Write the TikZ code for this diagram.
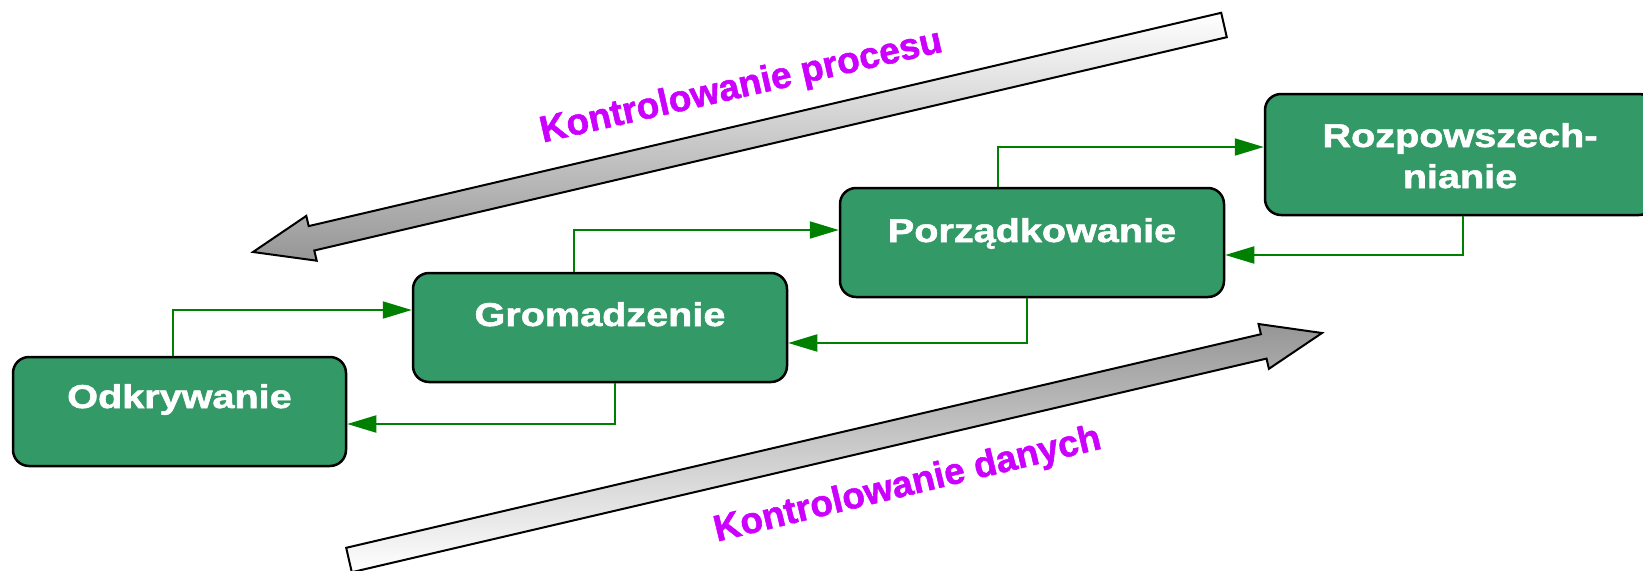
\documentclass[tikz,border=0pt]{standalone}
\usepackage{fontspec}
\setmainfont{Liberation Sans}
\newfontfamily\heavyfont{Liberation Sans}[BoldFeatures={FakeBold=1.5}]
\usetikzlibrary{arrows.meta,calc}
\definecolor{boxgreen}{RGB}{51,153,102}
\definecolor{linegreen}{RGB}{0,128,0}
\definecolor{labelpink}{RGB}{204,0,255}
\definecolor{arrowgray}{RGB}{150,150,150}
\begin{document}
\begin{tikzpicture}[x=1pt,y=-1pt,
  stage/.style={draw=black, line width=2.5pt, fill=boxgreen, rounded corners=16pt, inner sep=0pt},
  stagetext/.style={text=white, font={\fontsize{33}{40}\selectfont\heavyfont\bfseries}, anchor=base, inner sep=0pt, xscale=1.2},
  conn/.style={draw=linegreen, line width=2pt, -{Triangle[length=29pt,width=17pt]}},
  ctrl/.style={text=labelpink, font={\fontsize{37}{44}\selectfont\heavyfont\bfseries}, anchor=base, inner sep=0pt},
  bigarrow/.style={draw=black, line width=2pt, line join=miter}]
\useasboundingbox (0,0) rectangle (1643,570);

% big process / data arrows
\draw[bigarrow, top color=white, bottom color=arrowgray]
  (1221.2,12.8) -- (308.7,226.1) -- (306.3,215.9) -- (253,252) -- (316.7,260.7) -- (314.3,250.5) -- (1226.8,37.2) -- cycle;
\draw[bigarrow, top color=arrowgray, bottom color=white]
  (346.2,547.8) -- (1260.9,334.2) -- (1258.5,324.0) -- (1322,333) -- (1268.9,368.8) -- (1266.5,358.6) -- (351.8,572.2) -- cycle;

% stages
\node[stage, minimum width=333pt, minimum height=109pt] (odk) at (179.5,411.5) {};
\node[stage, minimum width=374pt, minimum height=109pt] (grom) at (600,327.5) {};
\node[stage, minimum width=384pt, minimum height=109pt] (porz) at (1032,242.5) {};
\node[stage, minimum width=390pt, minimum height=121pt] (rozp) at (1460,154.5) {};

\node[stagetext] (todk) at (179.5,408) {Odkrywanie};
\node[stagetext] (tgrom) at (600,326) {Gromadzenie};
\node[stagetext] (tporz) at (1032,242) {Porządkowanie};
\node[stagetext] (trozpa) at (1460,147) {Rozpowszech-};
\node[stagetext] (trozpb) at (1460,188) {nianie};

% connectors
\coordinate (k1) at (173,310);
\coordinate (k2) at (615,424);
\coordinate (k3) at (574,230);
\coordinate (k4) at (1027,343);
\coordinate (k5) at (998,147);
\coordinate (k6) at (1463,255);
\draw[conn] (odk.north -| k1) |- (grom.west |- k1);
\draw[conn] (grom.south -| k2) |- (odk.east |- k2);
\draw[conn] (grom.north -| k3) |- (porz.west |- k3);
\draw[conn] (porz.south -| k4) |- (grom.east |- k4);
\draw[conn] (porz.north -| k5) |- (rozp.west |- k5);
\draw[conn] (rozp.south -| k6) |- (porz.east |- k6);

% labels
\node[ctrl, rotate=12.8] (lproc) at (743.5,97) {Kontrolowanie procesu};
\node[ctrl, rotate=13.6] (ldan) at (910,495) {Kontrolowanie danych};
\end{tikzpicture}
\end{document}
